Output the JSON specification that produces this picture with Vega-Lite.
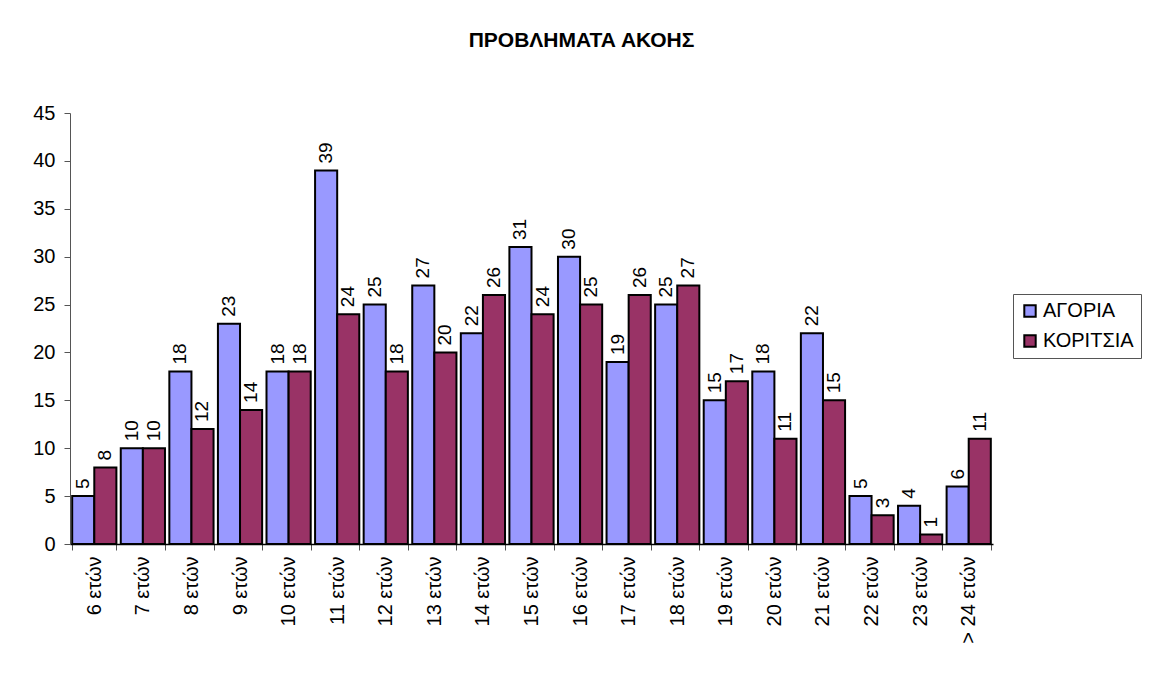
{
  "$schema": "https://vega.github.io/schema/vega-lite/v6.json",
  "autosize": {"type": "none"},
  "width": 923,
  "height": 431,
  "padding": {"left": 70, "top": 113, "right": 161, "bottom": 129},
  "background": "white",
  "title": {"text": "ΠΡΟΒΛΗΜΑΤΑ ΑΚΟΗΣ", "font": "Liberation Sans", "fontSize": 21, "fontWeight": "bold", "color": "black", "anchor": "middle", "frame": "group", "dx": 50, "offset": 52},
  "config": {"view": {"stroke": null}, "font": "Liberation Sans"},
  "data": {"values": [
    {"age": "6 ετών", "group": "ΑΓΟΡΙΑ", "n": 5}, {"age": "6 ετών", "group": "ΚΟΡΙΤΣΙΑ", "n": 8},
    {"age": "7 ετών", "group": "ΑΓΟΡΙΑ", "n": 10}, {"age": "7 ετών", "group": "ΚΟΡΙΤΣΙΑ", "n": 10},
    {"age": "8 ετών", "group": "ΑΓΟΡΙΑ", "n": 18}, {"age": "8 ετών", "group": "ΚΟΡΙΤΣΙΑ", "n": 12},
    {"age": "9 ετών", "group": "ΑΓΟΡΙΑ", "n": 23}, {"age": "9 ετών", "group": "ΚΟΡΙΤΣΙΑ", "n": 14},
    {"age": "10 ετών", "group": "ΑΓΟΡΙΑ", "n": 18}, {"age": "10 ετών", "group": "ΚΟΡΙΤΣΙΑ", "n": 18},
    {"age": "11 ετών", "group": "ΑΓΟΡΙΑ", "n": 39}, {"age": "11 ετών", "group": "ΚΟΡΙΤΣΙΑ", "n": 24},
    {"age": "12 ετών", "group": "ΑΓΟΡΙΑ", "n": 25}, {"age": "12 ετών", "group": "ΚΟΡΙΤΣΙΑ", "n": 18},
    {"age": "13 ετών", "group": "ΑΓΟΡΙΑ", "n": 27}, {"age": "13 ετών", "group": "ΚΟΡΙΤΣΙΑ", "n": 20},
    {"age": "14 ετών", "group": "ΑΓΟΡΙΑ", "n": 22}, {"age": "14 ετών", "group": "ΚΟΡΙΤΣΙΑ", "n": 26},
    {"age": "15 ετών", "group": "ΑΓΟΡΙΑ", "n": 31}, {"age": "15 ετών", "group": "ΚΟΡΙΤΣΙΑ", "n": 24},
    {"age": "16 ετών", "group": "ΑΓΟΡΙΑ", "n": 30}, {"age": "16 ετών", "group": "ΚΟΡΙΤΣΙΑ", "n": 25},
    {"age": "17 ετών", "group": "ΑΓΟΡΙΑ", "n": 19}, {"age": "17 ετών", "group": "ΚΟΡΙΤΣΙΑ", "n": 26},
    {"age": "18 ετών", "group": "ΑΓΟΡΙΑ", "n": 25}, {"age": "18 ετών", "group": "ΚΟΡΙΤΣΙΑ", "n": 27},
    {"age": "19 ετών", "group": "ΑΓΟΡΙΑ", "n": 15}, {"age": "19 ετών", "group": "ΚΟΡΙΤΣΙΑ", "n": 17},
    {"age": "20 ετών", "group": "ΑΓΟΡΙΑ", "n": 18}, {"age": "20 ετών", "group": "ΚΟΡΙΤΣΙΑ", "n": 11},
    {"age": "21 ετών", "group": "ΑΓΟΡΙΑ", "n": 22}, {"age": "21 ετών", "group": "ΚΟΡΙΤΣΙΑ", "n": 15},
    {"age": "22 ετών", "group": "ΑΓΟΡΙΑ", "n": 5}, {"age": "22 ετών", "group": "ΚΟΡΙΤΣΙΑ", "n": 3},
    {"age": "23 ετών", "group": "ΑΓΟΡΙΑ", "n": 4}, {"age": "23 ετών", "group": "ΚΟΡΙΤΣΙΑ", "n": 1},
    {"age": "> 24 ετών", "group": "ΑΓΟΡΙΑ", "n": 6}, {"age": "> 24 ετών", "group": "ΚΟΡΙΤΣΙΑ", "n": 11}
  ]},
  "encoding": {
    "x": {"field": "age", "type": "nominal", "sort": null, "title": null,
      "scale": {"paddingInner": 0.09, "paddingOuter": 0.045},
      "axis": {"labelAngle": -90, "labelFontSize": 20, "labelColor": "black", "labelPadding": 6, "labelAlign": "right", "labelBaseline": "middle", "tickBand": "extent", "tickSize": 6, "tickColor": "#555", "domainColor": "black", "domainWidth": 1.5}},
    "xOffset": {"field": "group", "type": "nominal", "sort": ["ΑΓΟΡΙΑ", "ΚΟΡΙΤΣΙΑ"], "scale": {"paddingInner": 0, "paddingOuter": 0}},
    "y": {"field": "n", "type": "quantitative", "title": null,
      "scale": {"domain": [0, 45]},
      "axis": {"values": [0, 5, 10, 15, 20, 25, 30, 35, 40, 45], "grid": false, "labelFontSize": 20, "labelColor": "black", "labelPadding": 9, "tickSize": 6, "tickColor": "#555", "domainColor": "#555", "domainWidth": 1}}
  },
  "layer": [
    {"mark": {"type": "bar", "stroke": "black", "strokeWidth": 2},
     "encoding": {"color": {"field": "group", "type": "nominal",
        "scale": {"domain": ["ΑΓΟΡΙΑ", "ΚΟΡΙΤΣΙΑ"], "range": ["#9999FF", "#993366"]},
        "legend": {"title": null, "orient": "none", "legendX": 943, "legendY": 181, "symbolType": "square", "symbolSize": 130, "symbolStrokeColor": "black", "symbolStrokeWidth": 2, "labelFontSize": 20, "labelColor": "black", "labelOffset": 3, "rowPadding": 10, "strokeColor": "#555", "padding": 7, "symbolOpacity": 1}}}},
    {"mark": {"type": "text", "angle": 270, "align": "left", "baseline": "middle", "dx": 7, "fontSize": 19, "color": "black"},
     "encoding": {"text": {"field": "n", "type": "quantitative"}}}
  ]
}
